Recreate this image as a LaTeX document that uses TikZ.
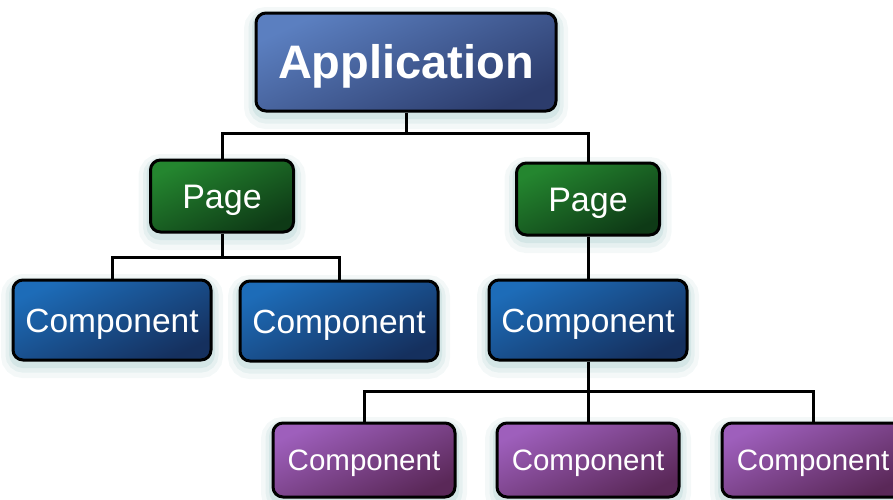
\documentclass[tikz,border=0pt]{standalone}
\usepackage{fontspec}
\setmainfont{Liberation Sans}
\usetikzlibrary{calc}

\definecolor{glowc}{HTML}{8FBDBD}
\definecolor{appA}{HTML}{5B7FC0}
\definecolor{appB}{HTML}{2C3C6C}
\definecolor{pageA}{HTML}{24862F}
\definecolor{pageB}{HTML}{0E3A16}
\definecolor{compA}{HTML}{1D6CB8}
\definecolor{compB}{HTML}{15305E}
\definecolor{subA}{HTML}{9E5FBC}
\definecolor{subB}{HTML}{5A2858}

\tikzset{
  box/.style={draw=black, line width=3pt, rounded corners=10pt,
    text=white, inner sep=0pt, align=center, text depth=0pt,
    preaction={draw=glowc, line width=24pt, draw opacity=0.10,
      transform canvas={yshift=-6pt}},
    preaction={draw=glowc, line width=15pt, draw opacity=0.14,
      transform canvas={yshift=-5pt}},
    preaction={draw=glowc, line width=8pt, draw opacity=0.20,
      transform canvas={yshift=-4pt}}},
  appbox/.style={box, minimum width=300pt, minimum height=98pt,
    top color=appA, bottom color=appB, shading angle=25,
    text height=33.6pt,
    font=\fontsize{47}{50}\selectfont\bfseries},
  pagebox/.style={box, minimum width=143pt, minimum height=72pt,
    top color=pageA, bottom color=pageB, shading angle=25,
    text height=24.4pt,
    font=\fontsize{34}{38}\selectfont},
  compbox/.style={box, minimum width=198pt, minimum height=80pt,
    top color=compA, bottom color=compB, shading angle=25,
    text height=24pt,
    font=\fontsize{33.5}{36}\selectfont},
  subbox/.style={box, minimum width=182pt, minimum height=74pt,
    top color=subA, bottom color=subB, shading angle=25,
    text height=21.1pt,
    font=\fontsize{29.5}{32}\selectfont},
  link/.style={draw=black, line width=3pt}
}

\begin{document}
\begin{tikzpicture}[x=1pt, y=-1pt]
  \useasboundingbox (0,0) rectangle (893,499);

  % tree nodes
  \node[appbox]  (app) at (406,62)  {Application};
  \node[pagebox] (pl)  at (222,196) {Page};
  \node[pagebox] (pr)  at (588,199) {Page};
  \node[compbox] (c1)  at (112,320) {Component};
  \node[compbox] (c2)  at (339,321) {Component};
  \node[compbox] (c3)  at (588,320) {Component};
  \node[subbox]  (s1)  at (364,460) {Component};
  \node[subbox]  (s2)  at (588,460) {Component};
  \node[subbox]  (s3)  at (813,460) {Component};

  % junction levels of the bus lines
  \coordinate (j0) at (406,133);
  \coordinate (j1) at (222,257);
  \coordinate (j2) at (588,391);

  % connectors
  \draw[link] (app.south) -- (app.south |- j0) -| (pl.north);
  \draw[link] (app.south |- j0) -| (pr.north);
  \draw[link] (pr.south) -- (c3.north);
  \draw[link] (pl.south) -- (pl.south |- j1) -| (c1.north);
  \draw[link] (pl.south |- j1) -| (c2.north);
  \draw[link] (c3.south) -- (c3.south |- j2) -| (s1.north);
  \draw[link] (c3.south |- j2) -- (s2.north);
  \draw[link] (c3.south |- j2) -| (s3.north);
\end{tikzpicture}
\end{document}
